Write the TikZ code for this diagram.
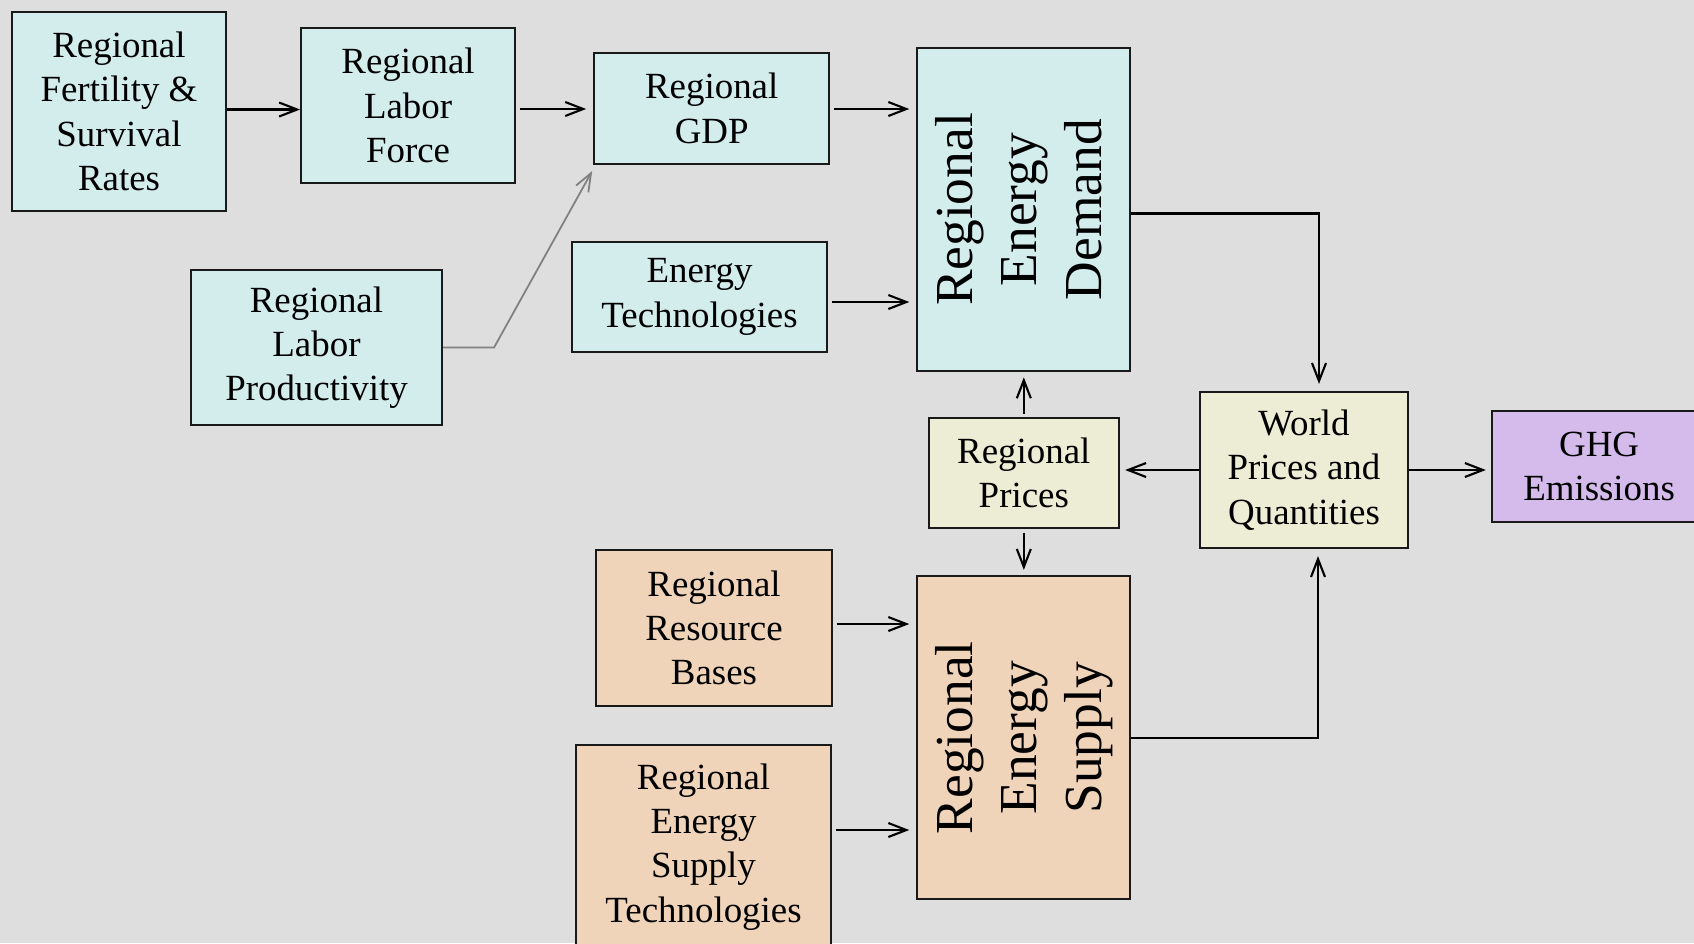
\documentclass[tikz,border=0pt]{standalone}
\usepackage{fontspec}
\setmainfont{Liberation Serif}
\usetikzlibrary{arrows.meta, positioning}
\definecolor{bgc}{HTML}{DEDEDE}
\definecolor{cyanf}{HTML}{D3EDED}
\definecolor{beigef}{HTML}{EDEDD5}
\definecolor{peachf}{HTML}{F0D4BA}
\definecolor{purpf}{HTML}{D5BBEC}
\tikzset{
    box/.style={rectangle, draw=black!90, line width=0.6pt, align=center, inner sep=0pt, font=\fontsize{10.5}{12.6}\selectfont},
    ar/.style={-{Straight Barb[length=1.8mm,width=1.4mm]}, line width=0.6pt},
}
\newcommand{\vtext}[1]{\rotatebox{90}{\fontsize{15.2}{18.4}\selectfont\begin{tabular}{@{}c@{}}#1\end{tabular}}}

\begin{document}
\begin{tikzpicture}[
    cb/.style={box, fill=cyanf},
    yb/.style={box, fill=beigef},
    ob/.style={box, fill=peachf},
    pb/.style={box, fill=purpf},
    big/.style={minimum width=2.13cm, minimum height=3.23cm},
]
    \path[use as bounding box, fill=bgc] (0,0) rectangle (16.94,-9.43);
    % Row 1: population and GDP
    \node [cb, minimum width=2.14cm, minimum height=1.99cm] (fert) at (1.19,-1.115) {Regional\\Fertility \&\\Survival\\Rates};
    \node [cb, minimum width=2.14cm, minimum height=1.55cm, right=0.73cm of fert, yshift=0.06cm] (labor) {Regional\\Labor\\Force};
    \node [cb, minimum width=2.35cm, minimum height=1.11cm, right=0.77cm of labor, yshift=-0.03cm] (gdp) {Regional\\GDP};
    \node [cb, big, right=0.86cm of gdp.north east, anchor=north west, yshift=0.05cm] (demand) {\vtext{Regional\\Energy\\Demand}};
    % Row 2: productivity and technologies
    \node [cb, minimum width=2.51cm, minimum height=1.55cm] (prod) at (3.165,-3.475) {Regional\\Labor\\Productivity};
    \node [cb, minimum width=2.55cm, minimum height=1.10cm] (etech) at (6.995,-2.97) {Energy\\Technologies};
    % Prices
    \node [yb, minimum width=1.90cm, minimum height=1.10cm, below=0.45cm of demand] (rprice) {Regional\\Prices};
    \node [yb, minimum width=2.08cm, minimum height=1.56cm] (world) at (13.04,-4.70) {World\\Prices and\\Quantities};
    \node [pb, minimum width=2.14cm, minimum height=1.11cm, right=0.82cm of world, yshift=0.035cm] (ghg) {GHG\\Emissions};
    % Supply side
    \node [ob, big, below=0.46cm of rprice] (supply) {\vtext{Regional\\Energy\\Supply}};
    \node [ob, minimum width=2.36cm, minimum height=1.56cm] (res) at (7.14,-6.28) {Regional\\Resource\\Bases};
    \node [ob, minimum width=2.55cm, minimum height=2.04cm] (stech) at (7.035,-8.47) {Regional\\Energy\\Supply\\Technologies};
    % Arrows
    \draw [ar] ([yshift=0.02cm]fert.east) -- ([yshift=0.02cm]fert.east -| labor.west);
    \draw [ar, shorten <=1pt, shorten >=2pt] ([yshift=-0.035cm]labor.east) -- ([yshift=-0.035cm]labor.east -| gdp.west);
    \draw [ar, shorten <=1pt, shorten >=2pt] ([yshift=-0.005cm]gdp.east) -- ([yshift=-0.005cm]gdp.east -| demand.west);
    \draw [ar, gray, line width=0.5pt] (prod.east) -- ++(0.51,0) -- ([xshift=-0.01cm,yshift=-0.06cm]gdp.south west);
    \draw [ar, shorten <=1pt, shorten >=2pt] ([yshift=-0.05cm]etech.east) -- ([yshift=-0.05cm]etech.east -| demand.west);
    \draw [ar, shorten >=2pt] ([yshift=-0.04cm]demand.east) -| ([xshift=0.15cm]world.north);
    \draw [ar, shorten <=1pt, shorten >=1.5pt] (rprice) -- (demand);
    \draw [ar, shorten >=1.5pt] (world.west) -- (world.west -| rprice.east);
    \draw [ar, shorten >=1.5pt] (world.east) -- (world.east -| ghg.west);
    \draw [ar, shorten <=1pt, shorten >=1.5pt] (rprice) -- (supply);
    \draw [ar, shorten <=1pt, shorten >=2pt] ([yshift=0.04cm]res.east) -- ([yshift=0.04cm]res.east -| supply.west);
    \draw [ar, shorten <=1pt, shorten >=2pt] ([yshift=0.17cm]stech.east) -- ([yshift=0.17cm]stech.east -| supply.west);
    \draw [ar, shorten >=2pt] (supply.east) -| ([xshift=0.14cm]world.south);
\end{tikzpicture}
\end{document}
